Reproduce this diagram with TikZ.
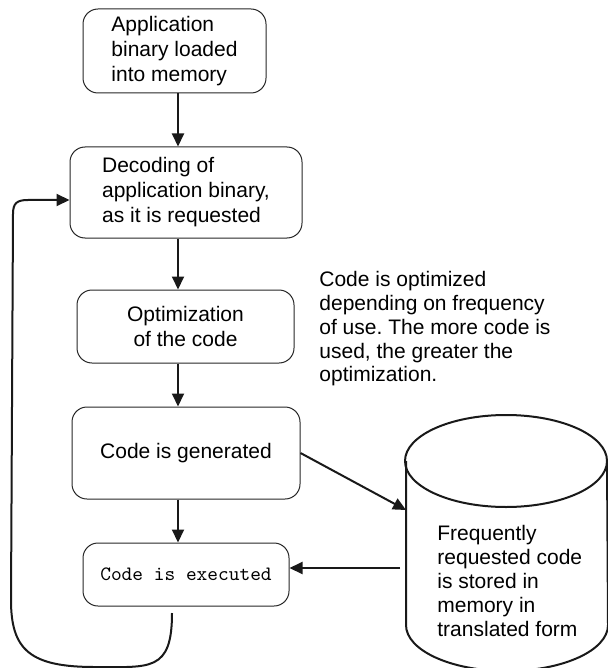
\documentclass[tikz,border=0pt]{standalone}
\usepackage{fontspec}
\setmainfont{Liberation Sans}
\usepackage{tikz}
\usetikzlibrary{arrows.meta}
\frenchspacing
\tikzset{
  proc/.style={draw=black!85,line width=0.5pt,rounded corners=7.5pt,inner sep=2pt},
  flow/.style={-{Triangle[length=6.5pt,width=6pt]},line width=1pt,black!90},
  nota/.style={align=left,inner sep=0pt,anchor=north west},
  cyl/.style={line width=1pt,black!90}
}
\begin{document}
\begin{tikzpicture}[x=0.5pt,y=-0.5pt,font=\fontsize{10.5}{12.5}\selectfont]
\useasboundingbox (0,0) rectangle (608,668);
\clip (0,0) rectangle (608,668);
\coordinate (axis) at (178,0);
% the flow of boxes
\node[proc,align=left,minimum width=91.5pt,minimum height=42pt] (load) at (174.5,51) {Application\\binary loaded\\into memory};
\node[proc,align=left,minimum width=116pt,minimum height=45.5pt] (dec) at (186,192.5) {Decoding of\\application binary,\\as it is requested};
\node[proc,align=center,minimum width=108.5pt,minimum height=36.5pt] (opt) at (185.5,326.5) {Optimization\\of the code};
\node[proc,minimum width=114pt,minimum height=46pt] (gen) at (186,453) {Code is generated};
\node[proc,minimum width=103pt,minimum height=31.5pt,font=\fontsize{10.2}{12}\ttfamily] (exec) at (186,574.5) {Code is executed};
\draw[flow] (load.south -| axis) -- (dec.north -| axis);
\draw[flow] (dec.south -| axis) -- (opt.north -| axis);
\draw[flow] (opt.south -| axis) -- (gen.north -| axis);
\draw[flow] (gen.south -| axis) -- (exec.north -| axis);
% note
\node[nota,font=\fontsize{10.5}{11.9}\selectfont] (nota) at (319,271) {Code is optimized\\depending on frequency\\of use. The more code is\\used, the greater the\\optimization.};
% store
\draw[cyl] (506,461) ellipse (50.5pt and 23pt);
\draw[cyl] (406,461) -- (406,625) arc[start angle=180,end angle=360,x radius=50.5pt,y radius=23pt] -- (607,461);
\node[nota,font=\fontsize{10.5}{12}\selectfont] (store) at (437,525) {Frequently\\requested code\\is stored in\\memory in\\translated form};
\coordinate (cylin) at (406,510);
\coordinate (cylout) at (400,568);
\draw[flow] (gen.east) -- (cylin);
\draw[flow] (cylout) -- (cylout -| exec.east);
% loop back
\coordinate (lp) at (172,613);
\coordinate (ret) at (13,200);
\draw[flow] (lp) .. controls (172,672) and (150,667) .. (95,667) .. controls (30,667) and (11,650) .. (11,600) -- (13,214) .. controls (13,203) and (17,200) .. (28,200) -- (ret -| dec.west);
\end{tikzpicture}
\end{document}
